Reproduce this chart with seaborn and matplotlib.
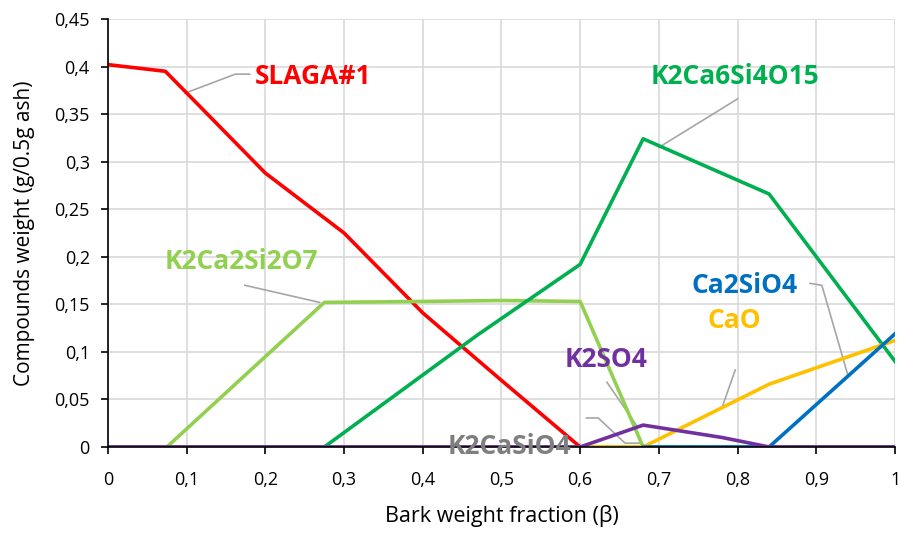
import matplotlib
matplotlib.use("Agg")
import matplotlib.pyplot as plt
import seaborn as sns
import pandas as pd

# series (x = bark weight fraction)
slaga_x = [0, 0.073, 0.2, 0.3, 0.4, 0.5, 0.6]
slaga_y = [0.402, 0.395, 0.288, 0.225, 0.141, 0.07, 0.0]

k2ca2_x = [0, 0.075, 0.275, 0.4, 0.5, 0.6, 0.68, 1.0]
k2ca2_y = [0, 0.0, 0.152, 0.153, 0.154, 0.153, 0.0, 0.0]

k2ca6_x = [0, 0.275, 0.47, 0.6, 0.68, 0.84, 1.0]
k2ca6_y = [0, 0.0, 0.118, 0.192, 0.324, 0.266, 0.09]

k2casio4_x = [0, 0.6, 0.68, 1.0]
k2casio4_y = [0, 0, 0, 0]

cao_x = [0.6, 0.68, 0.84, 1.0]
cao_y = [0.0, 0.0, 0.066, 0.112]

ca2sio4_x = [0.68, 0.84, 1.0]
ca2sio4_y = [0.0, 0.0, 0.119]

k2so4_x = [0, 0.6, 0.68, 0.78, 0.84, 1.0]
k2so4_y = [0, 0.0, 0.023, 0.01, 0.0, 0.0]

series = [
    ("SLAGA#1", slaga_x, slaga_y, "#FF0000"),
    ("K2Ca2Si2O7", k2ca2_x, k2ca2_y, "#92D050"),
    ("K2Ca6Si4O15", k2ca6_x, k2ca6_y, "#00B050"),
    ("K2CaSiO4", k2casio4_x, k2casio4_y, "#808080"),
    ("CaO", cao_x, cao_y, "#FFC000"),
    ("Ca2SiO4", ca2sio4_x, ca2sio4_y, "#0070C0"),
    ("K2SO4", k2so4_x, k2so4_y, "#7030A0"),
]

plt.rcParams["font.family"] = ["Open Sans", "DejaVu Sans"]

fig = plt.figure(figsize=(8.99, 5.33), dpi=100)
ax = fig.add_axes([0.120, 0.1614, 0.8756, 0.803])

for name, xs, ys, col in series:
    d = pd.DataFrame({"x": xs, "y": ys})
    sns.lineplot(data=d, x="x", y="y", color=col, linewidth=2.6, sort=False, ax=ax)

# labels with leader lines (callouts as in the Excel chart)
labels = [
    ("SLAGA#1", 0.187, 0.389, "#FF0000", [(0.098, 0.372), (0.162, 0.392), (0.18, 0.392)]),
    ("K2Ca6Si4O15", 0.689, 0.389, "#00B050", [(0.70, 0.315), (0.80, 0.366)]),
    ("K2Ca2Si2O7", 0.072, 0.1945, "#92D050", [(0.174, 0.170), (0.269, 0.152)]),
    ("Ca2SiO4", 0.742, 0.170, "#0070C0", [(0.892, 0.172), (0.907, 0.170), (0.940, 0.0757)]),
    ("CaO", 0.762, 0.133, "#FFC000", [(0.797, 0.081), (0.780, 0.041)]),
    ("K2SO4", 0.58, 0.0915, "#7030A0", [(0.634, 0.068), (0.673, 0.021)]),
    ("K2CaSiO4", 0.432, 0.0, "#7F7F7F", [(0.608, 0.0305), (0.623, 0.0305), (0.657, 0.004), (0.676, 0.004)]),
]
for text, tx, ty, col, pts in labels:
    ax.plot([p[0] for p in pts], [p[1] for p in pts], color="#A6A6A6", linewidth=1.2, zorder=1.5)
    ax.text(tx, ty, text, color=col, fontsize=19, fontweight="bold", va="center", ha="left",
            zorder=5, clip_on=False)

ax.set_xlim(0, 1)
ax.set_ylim(0, 0.45)
xt = [i / 10 for i in range(11)]
yt = [i * 0.05 for i in range(10)]
ax.set_xticks(xt)
ax.set_yticks(yt)
ax.set_xticklabels([f"{v:g}".replace(".", ",") for v in xt], fontsize=13)
ax.set_yticklabels(["0"] + [f"{v:.2f}".rstrip("0").replace(".", ",") for v in yt[1:]], fontsize=13)
ax.grid(True, color="#D9D9D9", linewidth=1.2)
ax.set_axisbelow(True)
for s in ["top", "right"]:
    ax.spines[s].set_visible(False)
ax.spines["left"].set_linewidth(1.2)
ax.spines["bottom"].set_linewidth(1.2)
ax.tick_params(axis="both", length=5, width=1.2, direction="out")
ax.tick_params(axis="x", pad=12)
ax.tick_params(axis="y", pad=8)
ax.set_xlabel("Bark weight fraction (β)", fontsize=15.5, labelpad=12)
ax.set_ylabel("Compounds weight (g/0.5g ash)", fontsize=15, labelpad=14)

fig.savefig("out.png", dpi=100)
